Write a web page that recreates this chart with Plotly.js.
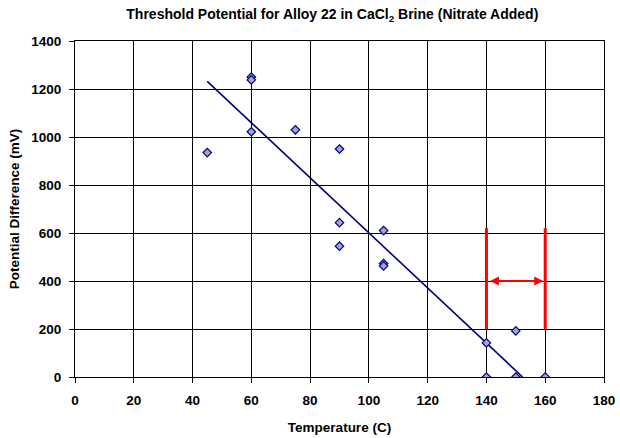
<!DOCTYPE html>
<html>
<head>
<meta charset="utf-8">
<script src="https://cdn.plot.ly/plotly-3.0.1.min.js"></script>
<style>html,body{margin:0;padding:0;background:#fff;}#chart{width:620px;height:438px;}</style>
</head>
<body>
<div id="chart"></div>
<script>
// Measured data: temperature (C) vs potential difference (mV)
var tempC = [45, 60, 60, 60, 75, 90, 90, 90, 105, 105, 105, 140, 140, 150, 150, 160];
var potentialMV = [935, 1250, 1238, 1022, 1030, 950, 643, 545, 610, 473, 463, 142, 0, 192, 0, 0];
// Trend line as drawn (endpoints)
var trendX = [45, 152.3];
var trendY = [1232, 0];
// Red bracket: temperature range and its vertical extent, arrow level
var bracketX = [140, 160];
var bracketY = [200, 620];
var arrowLevel = 400;
// Axis ticks
var xTicks = [0, 20, 40, 60, 80, 100, 120, 140, 160, 180];
var yTicks = [0, 200, 400, 600, 800, 1000, 1200, 1400];

var fontFam = '"Liberation Sans", Arial, sans-serif';
var traces = [
  {
    x: trendX, y: trendY, mode: 'lines', type: 'scatter',
    line: {color: '#000080', width: 1.6}, hoverinfo: 'skip'
  },
  {
    x: tempC, y: potentialMV, mode: 'markers', type: 'scatter',
    marker: {symbol: 'diamond', size: 6.5, color: '#a3a3cf', line: {color: '#000080', width: 1.2}}
  },
  {
    x: [bracketX[0], bracketX[0]], y: bracketY, mode: 'lines', type: 'scatter',
    line: {color: '#ff0000', width: 3}, hoverinfo: 'skip'
  },
  {
    x: [bracketX[1], bracketX[1]], y: bracketY, mode: 'lines', type: 'scatter',
    line: {color: '#ff0000', width: 3}, hoverinfo: 'skip'
  }
];

var axisCommon = {
  showline: true, mirror: true, linecolor: '#000', linewidth: 1,
  showgrid: true, gridcolor: '#000', gridwidth: 1,
  ticks: 'outside', ticklen: 5, tickcolor: '#000', tickwidth: 1,
  zeroline: false, automargin: false,
  tickfont: {family: fontFam, size: 13.5, color: '#000', weight: 'bold'}
};

var layout = {
  width: 620, height: 438,
  margin: {l: 75, r: 16, t: 41, b: 61},
  paper_bgcolor: '#fff', plot_bgcolor: '#fff',
  showlegend: false,
  font: {family: fontFam, color: '#000'},
  title: {
    text: '<b>Threshold Potential for Alloy 22 in CaCl<sub>2</sub> Brine (Nitrate Added)</b>',
    font: {family: fontFam, size: 14, color: '#000'},
    x: 0.536, xanchor: 'center', y: 0.968, yanchor: 'middle', yref: 'container'
  },
  xaxis: Object.assign({}, axisCommon, {
    range: [0, 180], tickvals: xTicks, ticktext: xTicks.map(String),
    ticklabelstandoff: 6,
    title: {text: '<b>Temperature (C)</b>', font: {family: fontFam, size: 13.5, color: '#000'}, standoff: 15}
  }),
  yaxis: Object.assign({}, axisCommon, {
    range: [0, 1400], tickvals: yTicks, ticktext: yTicks.map(String),
    ticklabelstandoff: 5,
    title: {text: '<b>Potential Difference (mV)</b>', font: {family: fontFam, size: 13.5, color: '#000'}, standoff: 8}
  }),
  annotations: [{
    x: bracketX[1], y: arrowLevel, ax: bracketX[0], ay: arrowLevel,
    xref: 'x', yref: 'y', axref: 'x', ayref: 'y',
    text: '', showarrow: true, arrowside: 'end+start',
    arrowhead: 2, arrowsize: 0.9, arrowwidth: 2, arrowcolor: '#ff0000',
    standoff: 2, startstandoff: 2
  }]
};

Plotly.newPlot('chart', traces, layout, {displayModeBar: false, staticPlot: true});
</script>
</body>
</html>
